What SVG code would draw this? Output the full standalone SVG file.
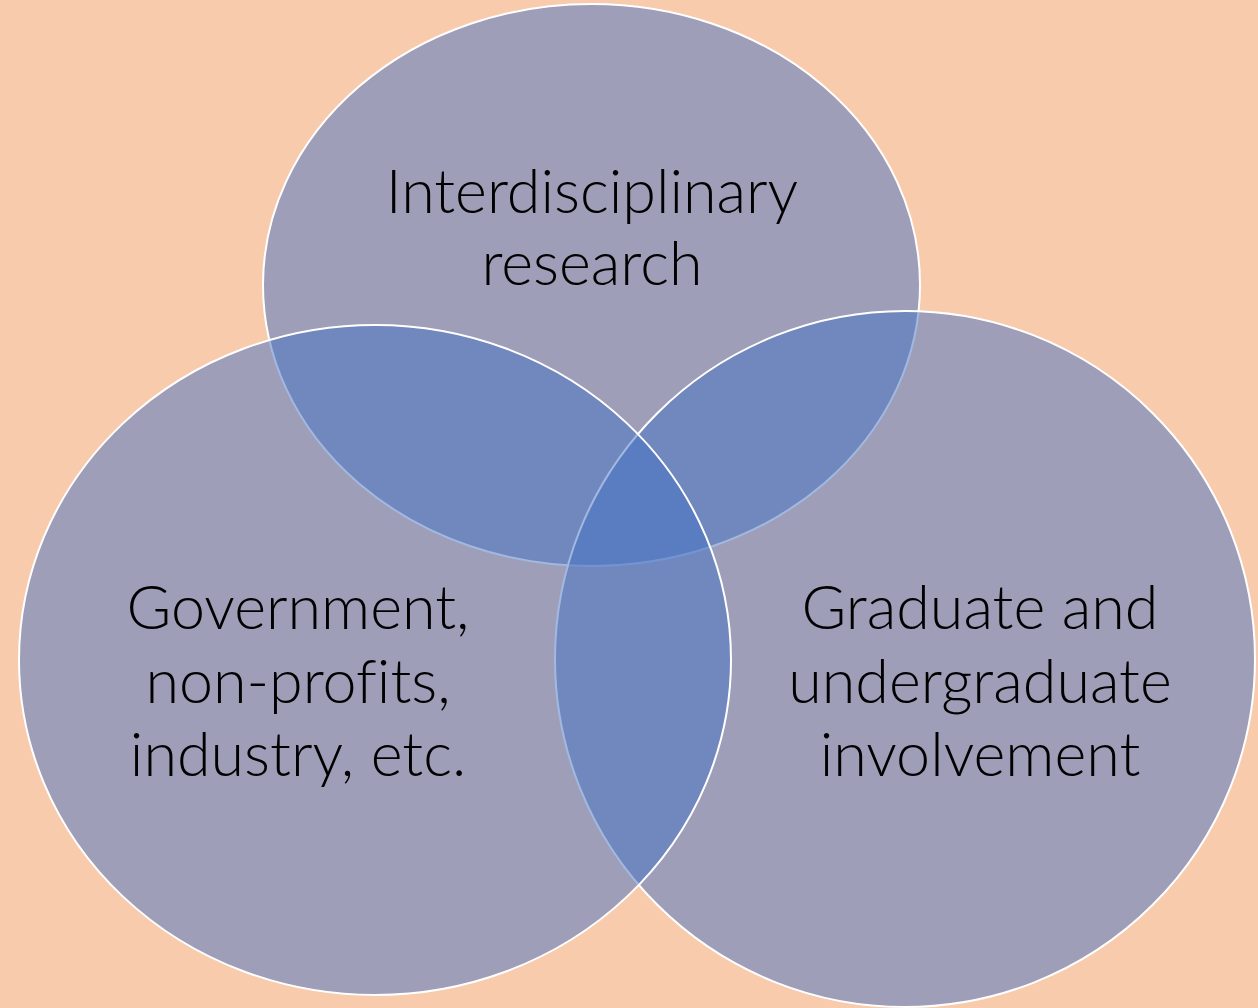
<svg xmlns="http://www.w3.org/2000/svg" width="1258" height="1008" viewBox="0 0 1258 1008">
  <style>
    .set { fill: #4472C4; fill-opacity: 0.5; stroke: #FFFFFF; stroke-width: 2; }
    .label { font-family: "Lato", "Liberation Sans", sans-serif; font-weight: 300; font-size: 61px; fill: #000000; text-anchor: middle; font-variant-ligatures: none; }
  </style>
  <rect x="0" y="0" width="1258" height="1008" fill="#F8CBAD"/>

  <!-- three overlapping sets; paint order: top, right, left -->
  <g id="set-research">
    <ellipse class="set" cx="591.5" cy="285" rx="328.5" ry="281"/>
    <text class="label" x="592" y="213">Interdisciplinary</text>
    <text class="label" x="592" y="285">research</text>
  </g>
  <g id="set-students">
    <ellipse class="set" cx="905" cy="659" rx="350" ry="348"/>
  </g>
  <g id="set-partners">
    <ellipse class="set" cx="375" cy="660" rx="356" ry="335"/>
  </g>

  <!-- labels of the lower sets sit above all fills -->
  <g id="labels-lower">
    <text class="label" x="298" y="629">Government,</text>
    <text class="label" x="298" y="703">non-profits,</text>
    <text class="label" x="298" y="776">industry, etc.</text>
    <text class="label" x="980" y="629">Graduate and</text>
    <text class="label" x="980" y="703">undergraduate</text>
    <text class="label" x="980" y="776">involvement</text>
  </g>
</svg>
